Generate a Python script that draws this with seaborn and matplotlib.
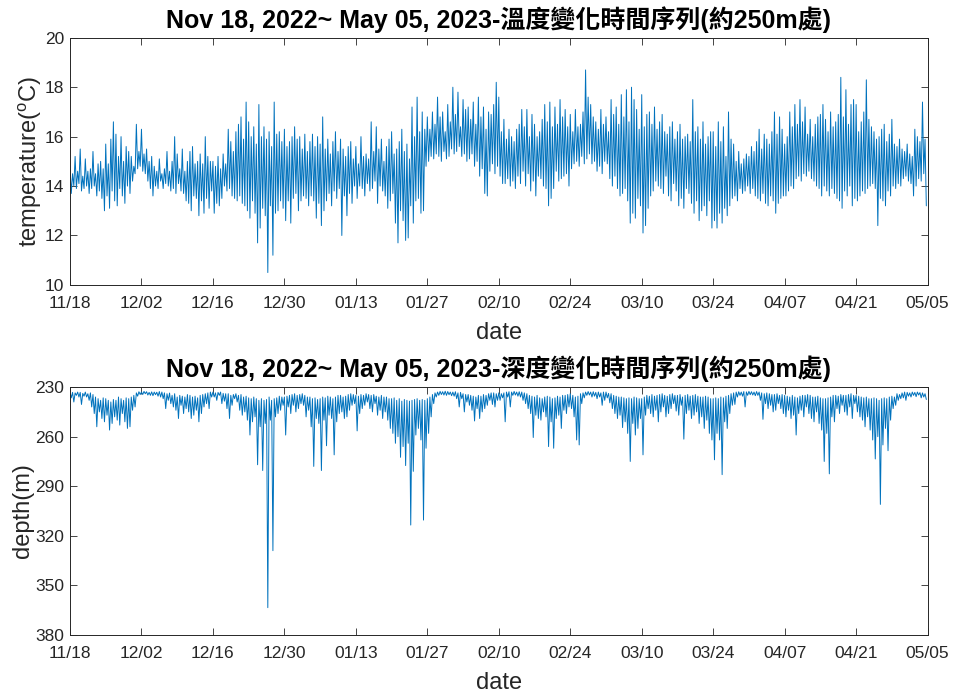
import numpy as np
import pandas as pd
import matplotlib
matplotlib.use('Agg')
import matplotlib.pyplot as plt
import matplotlib.dates as mdates
import seaborn as sns

#6-hourly samples (4 per day), one list per two-week block
#temperature (degC)
temp_1118 = [14.8, 13.7, 14.5, 14.0,
             15.2, 13.9, 14.6, 14.1,
             15.5, 13.8, 14.4, 13.9,
             15.1, 14.0, 14.6, 13.7,
             14.7, 13.9, 15.4, 14.0,
             14.5, 13.6, 14.9, 13.8,
             15.0, 13.5, 14.7, 13.0,
             15.7, 13.6, 14.9, 13.1,
             15.9, 13.8, 16.6, 13.4,
             16.1, 13.2, 15.2, 13.9,
             16.0, 13.6, 15.0, 13.3,
             15.6, 14.0, 15.4, 13.7,
             15.2, 14.2, 14.8, 14.5,
             16.5, 14.7, 15.4, 14.8]
temp_1202 = [16.3, 14.6, 15.3, 14.5,
             15.5, 14.2, 15.0, 13.9,
             15.2, 13.6, 14.8, 14.0,
             14.6, 13.9, 15.1, 14.2,
             14.5, 13.9, 14.7, 14.1,
             15.4, 14.0, 14.6, 13.8,
             15.0, 13.9, 16.0, 13.7,
             15.3, 14.1, 14.7, 13.8,
             15.5, 13.7, 14.6, 13.4,
             15.0, 13.3, 15.4, 13.0,
             15.6, 13.6, 14.9, 13.5,
             15.0, 12.8, 15.3, 13.4,
             14.9, 12.9, 16.0, 13.5,
             15.2, 13.1, 15.0, 13.8]
temp_1216 = [15.0, 12.9, 14.8, 13.3,
             15.2, 13.2, 14.7, 13.5,
             15.3, 14.0, 14.9, 13.8,
             16.3, 13.9, 15.8, 13.6,
             15.4, 13.5, 16.2, 13.4,
             16.5, 13.6, 16.8, 13.3,
             15.9, 13.2, 17.4, 13.0,
             16.6, 12.7, 16.0, 13.4,
             16.4, 12.9, 15.7, 11.7,
             17.3, 12.3, 16.0, 13.1,
             16.4, 12.8, 15.9, 10.5,
             16.2, 13.2, 15.6, 11.2,
             17.4, 12.9, 16.1, 13.0,
             16.2, 13.4, 15.8, 13.1]
temp_1230 = [16.3, 12.6, 15.6, 13.4,
             15.8, 12.5, 16.0, 13.5,
             16.4, 13.7, 15.9, 13.0,
             16.0, 13.4, 15.5, 13.6,
             16.1, 13.5, 15.4, 13.2,
             15.8, 13.6, 16.1, 13.4,
             15.6, 12.7, 16.0, 13.3,
             15.7, 12.4, 16.8, 13.0,
             15.5, 13.4, 15.9, 13.7,
             15.3, 13.2, 15.8, 13.8,
             16.2, 13.5, 15.4, 13.9,
             15.9, 12.0, 15.5, 13.6,
             15.2, 12.8, 15.6, 13.7,
             15.8, 13.3, 15.1, 14.0]
temp_0113 = [15.6, 13.5, 14.9, 14.0,
             16.0, 13.9, 15.2, 13.6,
             15.3, 14.1, 15.1, 13.8,
             16.6, 13.9, 15.4, 14.2,
             16.4, 13.3, 15.5, 14.0,
             15.9, 13.8, 15.0, 13.6,
             15.6, 13.1, 15.9, 13.4,
             16.2, 13.7, 15.3, 12.5,
             15.5, 11.7, 15.8, 13.0,
             16.3, 12.6, 15.4, 11.8,
             15.7, 11.9, 15.1, 13.2,
             17.2, 12.5, 16.0, 13.4,
             17.6, 13.5, 16.2, 12.9,
             17.0, 13.0, 16.3, 14.8]
temp_0127 = [16.8, 15.0, 16.3, 15.2,
             17.0, 15.1, 16.5, 15.3,
             17.6, 15.2, 16.8, 15.0,
             17.0, 15.4, 16.2, 15.1,
             17.3, 15.2, 16.6, 15.5,
             18.0, 15.3, 16.9, 15.4,
             17.8, 15.6, 16.4, 15.2,
             17.5, 15.3, 17.1, 15.0,
             17.2, 15.1, 16.7, 15.3,
             17.4, 14.8, 16.5, 15.0,
             17.6, 14.4, 16.8, 14.7,
             17.2, 13.7, 16.3, 13.6,
             17.0, 14.6, 16.9, 14.9,
             17.3, 14.5, 18.2, 14.8]
temp_0210 = [17.6, 14.4, 16.2, 14.1,
             16.7, 14.1, 15.9, 14.3,
             16.3, 14.0, 16.0, 14.2,
             15.8, 13.9, 16.3, 14.4,
             16.5, 14.1, 17.1, 14.6,
             16.4, 14.0, 17.1, 14.5,
             16.0, 13.8, 16.9, 14.2,
             16.5, 13.6, 16.0, 14.4,
             16.2, 14.3, 16.7, 14.0,
             17.3, 13.9, 16.6, 13.2,
             17.4, 13.5, 16.4, 13.9,
             17.2, 14.6, 16.5, 14.2,
             17.5, 14.3, 16.8, 14.4,
             17.1, 14.5, 16.4, 14.0]
temp_0224 = [16.9, 14.7, 16.2, 14.9,
             17.1, 15.0, 16.4, 14.8,
             16.5, 15.2, 17.0, 14.9,
             18.7, 15.1, 17.6, 15.3,
             17.3, 14.9, 16.8, 15.0,
             16.6, 14.6, 16.3, 14.8,
             17.1, 14.5, 16.5, 15.0,
             16.8, 14.9, 16.2, 14.3,
             17.5, 14.0, 16.9, 14.4,
             17.2, 13.9, 16.5, 13.6,
             17.7, 13.7, 16.8, 13.9,
             17.9, 13.4, 16.6, 12.5,
             18.0, 12.9, 17.5, 12.7,
             17.1, 13.5, 16.3, 13.2]
temp_0310 = [17.7, 12.1, 16.4, 12.4,
             16.9, 13.1, 17.0, 13.6,
             16.5, 13.8, 17.2, 14.2,
             16.3, 14.0, 16.6, 13.9,
             16.9, 13.7, 16.2, 14.4,
             16.1, 13.6, 16.4, 13.4,
             16.6, 14.1, 15.9, 13.8,
             16.2, 13.2, 16.5, 13.5,
             15.9, 13.1, 16.0, 13.9,
             16.1, 13.7, 15.8, 13.3,
             17.5, 12.9, 16.2, 13.4,
             16.4, 12.6, 15.9, 13.0,
             16.6, 13.2, 15.7, 12.8,
             16.0, 13.4, 16.2, 12.3]
temp_0324 = [16.2, 12.6, 15.6, 12.3,
             16.6, 12.9, 15.8, 12.5,
             16.4, 13.1, 15.2, 12.8,
             17.0, 13.2, 15.9, 13.5,
             15.7, 13.6, 15.0, 13.4,
             15.4, 13.9, 14.9, 13.7,
             15.1, 13.8, 15.3, 14.0,
             15.2, 13.7, 15.6, 13.9,
             15.4, 13.6, 15.8, 13.5,
             16.3, 13.4, 15.5, 13.7,
             16.1, 13.3, 15.9, 13.2,
             15.7, 13.6, 16.2, 13.4,
             17.0, 12.9, 16.1, 13.3,
             16.8, 13.5, 16.3, 13.6]
temp_0407 = [15.7, 13.6, 16.0, 13.8,
             17.0, 14.0, 16.4, 13.9,
             17.3, 14.3, 16.5, 14.4,
             17.5, 14.2, 16.6, 14.5,
             17.2, 14.4, 16.1, 14.6,
             16.7, 14.3, 16.0, 14.2,
             16.5, 14.0, 16.8, 13.9,
             16.9, 13.6, 17.3, 14.0,
             16.7, 13.8, 16.2, 13.6,
             17.0, 13.9, 16.4, 13.7,
             16.6, 13.5, 16.9, 13.4,
             18.4, 13.1, 16.8, 13.8,
             17.9, 13.6, 16.5, 14.0,
             17.3, 13.2, 17.5, 13.5]
temp_0421 = [17.3, 13.4, 16.2, 13.6,
             16.6, 13.8, 17.0, 13.7,
             18.3, 13.9, 16.7, 14.0,
             16.4, 14.1, 16.2, 13.9,
             15.9, 12.4, 16.0, 13.5,
             16.3, 13.4, 16.5, 13.2,
             15.8, 13.8, 16.1, 13.6,
             16.7, 14.0, 15.7, 13.9,
             15.6, 14.1, 15.9, 14.0,
             15.5, 14.3, 15.4, 14.4,
             15.7, 14.2, 15.3, 14.1,
             15.2, 13.6, 16.3, 14.0,
             16.0, 14.3, 15.8, 14.2,
             17.4, 14.5, 15.9, 13.2]

#depth (m)
depth_1118 = [233.0, 236.5, 233.2, 239.0,
              233.5, 235.0, 233.0, 236.0,
              233.2, 240.5, 233.8, 235.5,
              233.0, 236.0, 234.0, 238.0,
              233.5, 242.0, 234.5, 246.0,
              236.0, 254.0, 237.0, 245.0,
              238.0, 249.0, 236.5, 251.0,
              237.0, 247.0, 238.0, 256.0,
              239.0, 252.0, 237.5, 248.0,
              238.0, 250.0, 236.0, 253.0,
              237.0, 246.0, 238.0, 251.0,
              236.5, 255.0, 237.0, 254.0,
              236.0, 244.0, 235.0, 242.0,
              233.5, 235.5, 232.8, 234.5]
depth_1202 = [233.0, 234.5, 232.6, 234.0,
              232.8, 234.8, 233.2, 235.0,
              232.9, 235.2, 233.0, 234.6,
              233.1, 235.5, 232.7, 236.0,
              233.0, 237.0, 233.5, 243.0,
              234.0, 238.0, 233.6, 240.0,
              235.0, 242.0, 234.0, 244.0,
              236.0, 249.0, 235.0, 241.0,
              235.5, 246.0, 236.0, 243.0,
              234.5, 245.0, 235.0, 249.0,
              236.0, 247.0, 235.5, 244.0,
              236.5, 251.0, 235.0, 246.0,
              234.5, 242.0, 234.0, 240.0,
              233.5, 243.0, 233.0, 236.0]
depth_1216 = [233.0, 236.0, 233.5, 238.0,
              233.2, 235.0, 233.0, 240.0,
              233.8, 238.5, 234.0, 243.0,
              234.0, 249.0, 235.0, 241.0,
              234.5, 237.0, 234.0, 239.0,
              235.0, 244.0, 234.5, 247.0,
              236.0, 245.0, 235.5, 250.0,
              236.5, 259.0, 237.0, 251.0,
              236.0, 248.0, 237.0, 277.0,
              238.0, 254.0, 237.0, 280.5,
              238.0, 252.0, 237.5, 363.5,
              236.0, 250.0, 238.0, 329.0,
              237.0, 248.0, 236.5, 246.0,
              235.5, 244.0, 236.0, 241.0]
depth_1230 = [236.0, 259.0, 235.5, 242.0,
              235.0, 246.0, 234.5, 241.0,
              234.0, 245.0, 235.0, 243.0,
              234.5, 240.0, 234.0, 241.0,
              235.0, 248.0, 236.0, 244.0,
              236.0, 254.0, 237.0, 278.0,
              236.5, 249.0, 237.5, 252.0,
              237.0, 280.5, 236.0, 250.0,
              236.5, 265.5, 235.5, 247.0,
              236.0, 249.0, 237.0, 271.0,
              236.0, 251.0, 235.0, 246.0,
              235.0, 245.0, 236.0, 249.0,
              235.5, 248.0, 234.5, 244.0,
              234.0, 241.0, 234.5, 240.0]
depth_0113 = [235.0, 256.5, 235.5, 246.0,
              234.5, 243.0, 235.0, 241.0,
              234.0, 239.0, 234.5, 243.0,
              235.0, 245.0, 234.5, 240.0,
              235.5, 247.0, 236.0, 244.0,
              235.0, 249.0, 236.0, 245.0,
              236.0, 250.0, 237.0, 255.0,
              237.0, 258.0, 236.5, 264.0,
              238.0, 260.0, 237.0, 272.5,
              238.5, 266.0, 237.5, 277.5,
              238.0, 264.0, 238.5, 313.5,
              238.0, 281.0, 237.5, 259.0,
              237.0, 255.0, 238.0, 262.0,
              237.5, 310.5, 238.0, 267.0]
depth_0127 = [237.0, 258.0, 236.0, 248.0,
              234.5, 240.0, 233.5, 236.0,
              233.0, 235.0, 232.6, 234.5,
              232.8, 234.8, 232.5, 235.0,
              232.7, 234.6, 233.0, 235.2,
              233.0, 235.5, 232.8, 237.0,
              233.5, 242.0, 233.2, 237.0,
              234.0, 245.0, 234.5, 239.0,
              234.5, 241.0, 235.0, 244.0,
              235.5, 250.5, 236.0, 243.0,
              235.0, 249.0, 235.5, 245.0,
              234.5, 243.0, 235.0, 241.0,
              234.0, 238.0, 233.5, 240.5,
              233.5, 242.0, 234.0, 238.0]
depth_0210 = [233.5, 238.0, 234.0, 236.5,
              233.5, 251.0, 233.0, 236.0,
              232.8, 242.0, 233.0, 235.0,
              232.6, 234.8, 233.0, 235.5,
              232.8, 236.0, 233.0, 238.0,
              233.5, 240.0, 234.0, 243.0,
              235.0, 246.0, 235.5, 260.5,
              236.0, 247.0, 235.0, 249.0,
              236.5, 250.0, 237.0, 245.0,
              236.0, 248.0, 235.5, 266.0,
              236.0, 251.0, 237.0, 267.0,
              236.5, 249.0, 235.5, 247.0,
              236.0, 255.0, 235.0, 244.0,
              235.0, 246.0, 234.5, 242.0]
depth_0224 = [234.0, 243.0, 235.0, 248.0,
              236.0, 262.0, 235.5, 265.0,
              234.0, 240.0, 233.5, 236.5,
              233.0, 235.0, 232.7, 234.8,
              233.0, 236.0, 232.8, 235.5,
              233.2, 237.0, 233.0, 236.0,
              233.5, 241.0, 233.0, 238.0,
              233.0, 236.5, 233.8, 239.5,
              234.0, 243.0, 235.0, 246.0,
              235.5, 249.0, 236.0, 247.0,
              236.0, 254.5, 236.5, 251.0,
              237.0, 258.0, 236.5, 275.0,
              237.0, 252.0, 236.0, 259.0,
              236.5, 255.0, 237.0, 249.0]
depth_0310 = [237.0, 271.0, 236.0, 247.0,
              235.0, 243.0, 235.5, 246.0,
              234.5, 248.0, 235.5, 244.0,
              235.0, 251.0, 234.5, 245.0,
              234.0, 242.0, 235.0, 248.0,
              235.5, 246.0, 234.5, 243.0,
              234.0, 240.0, 235.0, 244.5,
              235.0, 247.0, 234.5, 241.0,
              236.0, 261.5, 235.0, 246.0,
              234.5, 244.0, 235.5, 249.0,
              235.0, 247.0, 234.5, 245.0,
              235.5, 252.0, 236.0, 248.0,
              236.0, 255.0, 235.5, 250.0,
              236.0, 258.0, 237.0, 262.0]
depth_0324 = [237.0, 274.0, 236.5, 258.0,
              237.0, 262.0, 236.0, 283.0,
              236.5, 251.0, 235.5, 255.0,
              235.0, 246.0, 234.0, 241.0,
              233.5, 240.5, 233.0, 236.0,
              232.8, 235.0, 233.0, 235.5,
              232.7, 242.0, 232.9, 235.0,
              232.6, 234.6, 232.8, 234.8,
              233.0, 235.2, 232.7, 235.0,
              233.0, 238.0, 233.5, 249.5,
              234.0, 240.0, 233.5, 243.0,
              234.0, 241.0, 234.5, 245.0,
              234.5, 244.0, 234.0, 240.0,
              235.0, 243.0, 234.5, 246.0]
depth_0407 = [235.0, 248.0, 235.5, 244.0,
              236.0, 249.0, 235.0, 247.0,
              236.0, 259.0, 236.5, 246.0,
              235.5, 244.0, 235.0, 248.0,
              235.0, 242.0, 234.5, 246.0,
              235.0, 249.0, 236.0, 251.0,
              236.0, 245.0, 235.5, 252.0,
              236.5, 256.0, 237.0, 275.0,
              237.0, 258.0, 236.5, 282.5,
              236.0, 248.0, 235.0, 251.0,
              235.0, 243.0, 235.5, 246.0,
              234.5, 241.0, 235.0, 245.0,
              235.0, 247.0, 234.5, 242.0,
              234.0, 249.0, 235.0, 240.0]
depth_0421 = [235.0, 245.0, 235.5, 248.0,
              236.0, 250.0, 236.5, 254.0,
              236.0, 248.0, 237.0, 256.0,
              237.0, 262.0, 236.5, 273.5,
              237.0, 260.0, 238.0, 301.0,
              237.0, 265.0, 236.5, 255.0,
              237.0, 268.5, 236.0, 250.0,
              235.5, 243.0, 236.0, 241.0,
              234.0, 238.0, 234.5, 237.0,
              233.5, 236.5, 233.0, 238.0,
              233.2, 235.5, 233.5, 236.0,
              233.0, 235.0, 233.2, 235.8,
              233.0, 234.8, 233.3, 236.5,
              233.5, 236.0, 234.0, 237.5]

date_ticks = ['2022-11-18', '2022-12-02', '2022-12-16', '2022-12-30', '2023-01-13',
              '2023-01-27', '2023-02-10', '2023-02-24', '2023-03-10', '2023-03-24',
              '2023-04-07', '2023-04-21', '2023-05-05']
temp_ticks = [10, 12, 14, 16, 18, 20]
depth_ticks = [230, 260, 290, 320, 350, 380]

title_temp = 'Nov 18, 2022~ May 05, 2023-溫度變化時間序列(約250m處)'
title_depth = 'Nov 18, 2022~ May 05, 2023-深度變化時間序列(約250m處)'

temp = (temp_1118 + temp_1202 + temp_1216 + temp_1230 + temp_0113 + temp_0127 +
        temp_0210 + temp_0224 + temp_0310 + temp_0324 + temp_0407 + temp_0421)
depth = (depth_1118 + depth_1202 + depth_1216 + depth_1230 + depth_0113 + depth_0127 +
         depth_0210 + depth_0224 + depth_0310 + depth_0324 + depth_0407 + depth_0421)
times = pd.date_range('2022-11-18', periods=len(temp), freq='6h')
df = pd.DataFrame({'time': times, 'temperature': temp, 'depth': depth})

#matlab-like look
sns.set_style('ticks')
plt.rcParams['font.family'] = ['Liberation Sans', 'Noto Sans CJK TC', 'DejaVu Sans']
plt.rcParams['mathtext.fontset'] = 'custom'
plt.rcParams['mathtext.rm'] = 'Liberation Sans'
line_color = '#0072BD'
edge = '#262626'

fig = plt.figure(figsize=(9.55, 7.0), dpi=100)
ax1 = fig.add_axes([0.0733, 0.593, 0.898, 0.353])
ax2 = fig.add_axes([0.0733, 0.093, 0.898, 0.354])

sns.lineplot(data=df, x='time', y='temperature', ax=ax1, color=line_color, linewidth=0.7, estimator=None)
sns.lineplot(data=df, x='time', y='depth', ax=ax2, color=line_color, linewidth=0.7, estimator=None)

tick_pos = pd.to_datetime(date_ticks)
for ax in (ax1, ax2):
    ax.set_xlim(tick_pos[0], tick_pos[-1])
    ax.set_xticks(tick_pos)
    ax.xaxis.set_major_formatter(mdates.DateFormatter('%m/%d'))
    ax.tick_params(direction='in', top=True, right=True, length=5, width=0.6,
                   colors=edge, labelsize=12.5)
    ax.tick_params(axis='x', pad=8)
    ax.tick_params(axis='y', pad=4)
    for s in ax.spines.values():
        s.set_color(edge)
        s.set_linewidth(0.7)
        s.set_visible(True)
    ax.set_xlabel('date', fontsize=17, color=edge, labelpad=8)

ax1.set_ylim(10, 20)
ax1.set_yticks(temp_ticks)
ax1.set_ylabel('temperature($\\mathregular{^o}$C)', fontsize=17, color=edge, labelpad=1)
ax1.set_title(title_temp, fontsize=18, fontweight='bold', color='black', pad=7)

ax2.set_ylim(380, 230)
ax2.set_yticks(depth_ticks)
ax2.set_ylabel('depth(m)', fontsize=17, color=edge, labelpad=1)
ax2.set_title(title_depth, fontsize=18, fontweight='bold', color='black', pad=7)

fig.savefig('out.png', dpi=100)
